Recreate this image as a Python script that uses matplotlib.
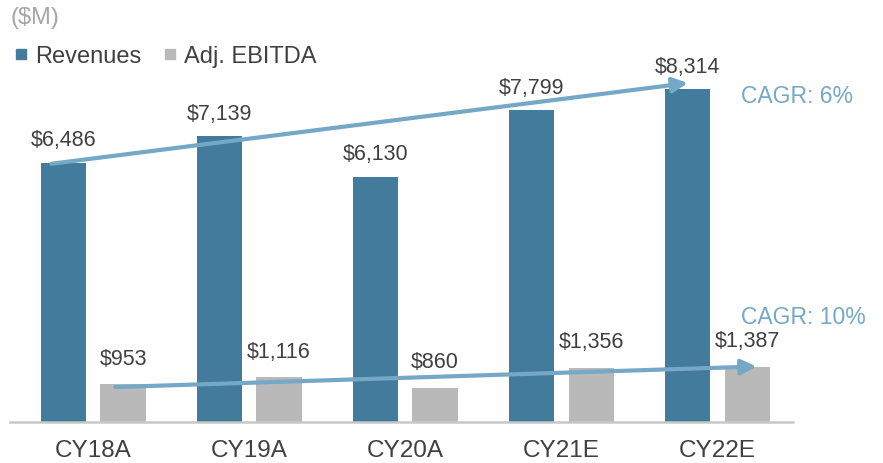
import numpy as np
import matplotlib.pyplot as plt
from matplotlib.lines import Line2D

plt.rcParams['font.family'] = ['Liberation Sans', 'DejaVu Sans']

years = ['CY18A', 'CY19A', 'CY20A', 'CY21E', 'CY22E']
revenues = [6486, 7139, 6130, 7799, 8314]
ebitda = [953, 1116, 860, 1356, 1387]
cagr_labels = ['CAGR: 6%', 'CAGR: 10%']

rev_color = '#427B9B'
ebitda_color = '#B9B9B9'
arrow_color = '#74A8C6'
text_color = '#404040'

fig = plt.figure(figsize=(8.83, 4.64), dpi=100)
ax = fig.add_axes([10 / 883, 41 / 464, 783 / 883, 403 / 464])

x = np.arange(len(years))
off = 0.19
w = 0.29
ax.bar(x - off, revenues, w, color=rev_color)
ax.bar(x + off, ebitda, w, color=ebitda_color)

for xi, v in zip(x, revenues):
    ax.annotate(f'${v:,}', (xi - off, v), xytext=(0, 9), textcoords='offset points',
                ha='center', va='bottom', fontsize=15.5, color=text_color)
for xi, v in zip(x, ebitda):
    ax.annotate(f'${v:,}', (xi + off, v), xytext=(0, 11), textcoords='offset points',
                ha='center', va='bottom', fontsize=15.5, color=text_color)

# growth arrows
ax.annotate('', xy=(x[-1] - 0.19, revenues[-1] + 160), xytext=(x[0] - 0.27, revenues[0] - 30),
            arrowprops=dict(arrowstyle='-|>,head_length=0.9,head_width=0.45', lw=3,
                            color=arrow_color, shrinkA=0, shrinkB=0))
ax.annotate('', xy=(x[-1] + 0.25, ebitda[-1]), xytext=(x[0] + 0.14, ebitda[0] - 80),
            arrowprops=dict(arrowstyle='-|>,head_length=0.9,head_width=0.45', lw=3,
                            color=arrow_color, shrinkA=0, shrinkB=0))
ax.text(0.934, 0.811, cagr_labels[0], transform=ax.transAxes, ha='left', va='center',
        fontsize=16.5, color=arrow_color)
ax.text(0.934, 0.263, cagr_labels[1], transform=ax.transAxes, ha='left', va='center',
        fontsize=16.5, color=arrow_color)

ax.set_xlim(-0.535, 4.484)
ax.set_ylim(0, 10075)
ax.set_xticks(x)
ax.set_xticklabels(years, fontsize=17.5, color=text_color)
ax.tick_params(axis='x', length=0, pad=12)
ax.set_yticks([])
for s in ['top', 'right', 'left']:
    ax.spines[s].set_visible(False)
ax.spines['bottom'].set_color('#C8C8C8')
ax.spines['bottom'].set_linewidth(1.8)

fig.text(10 / 883, 1 - 18 / 464, '($M)', ha='left', va='center', fontsize=17, color='#A6A6A6')
handles = [Line2D([], [], marker='s', ls='', color=rev_color, markersize=7.5),
           Line2D([], [], marker='s', ls='', color=ebitda_color, markersize=7.5)]
fig.legend(handles, ['Revenues', 'Adj. EBITDA'], loc='center left', bbox_to_anchor=(14 / 883, 1 - 57 / 464),
           ncol=2, frameon=False, fontsize=17, handlelength=0.6, handletextpad=0.3,
           columnspacing=0.9, borderpad=0, borderaxespad=0, labelcolor=text_color)

plt.savefig('out.png', dpi=100)
